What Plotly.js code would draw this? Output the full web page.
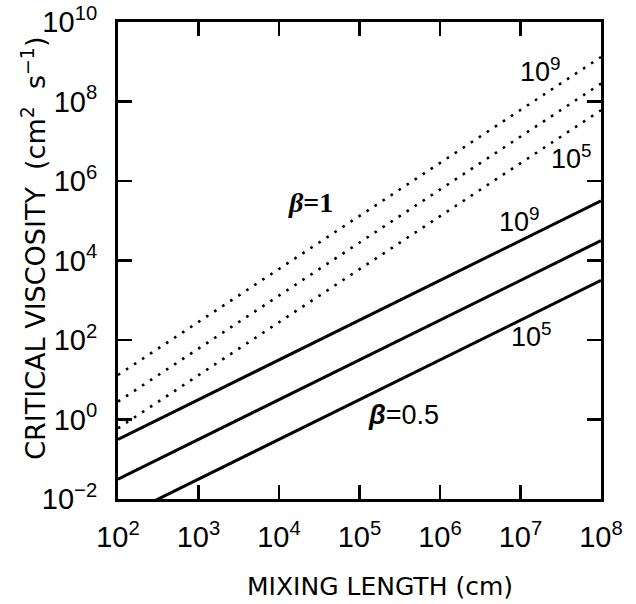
<!DOCTYPE html>
<html><head><meta charset="utf-8">
<script src="https://cdn.plot.ly/plotly-3.0.1.min.js"></script>
<style>body{margin:0;background:#fff}#c{width:636px;height:604px}</style>
</head><body><div id="c"></div>
<script>
// Mixing length (cm)
const mixLen = [1e2, 1e8];
// Critical viscosity, beta = 1 (dotted), Ra = 1e9, 1e7, 1e5
const beta1_Ra9 = [Math.pow(10, 1.12), Math.pow(10, 9.12)];
const beta1_Ra7 = [Math.pow(10, 0.45), Math.pow(10, 8.45)];
const beta1_Ra5 = [Math.pow(10, -0.22), Math.pow(10, 7.78)];
// beta = 0.5 (solid)
const beta05_Ra9 = [Math.pow(10, -0.5), Math.pow(10, 5.5)];
const beta05_Ra7 = [Math.pow(10, -1.5), Math.pow(10, 4.5)];
const beta05_Ra5 = [Math.pow(10, -2.5), Math.pow(10, 3.5)];

const xTickVals = [1e2,1e3,1e4,1e5,1e6,1e7,1e8];
const xTickText = ['10<sup>2</sup>','10<sup>3</sup>','10<sup>4</sup>','10<sup>5</sup>','10<sup>6</sup>','10<sup>7</sup>','10<sup>8</sup>'];
const yTickVals = [1e-2,1e0,1e2,1e4,1e6,1e8,1e10];
const yTickText = ['10<sup>−2</sup>','10<sup>0</sup>','10<sup>2</sup>','10<sup>4</sup>','10<sup>6</sup>','10<sup>8</sup>','10<sup>10</sup>'];

const dotted = {color:'#000', width:2.6, dash:'2.6px,7px'};
const solid = {color:'#000', width:3};
const traces = [
  {x:mixLen, y:beta1_Ra9, mode:'lines', line:dotted},
  {x:mixLen, y:beta1_Ra7, mode:'lines', line:dotted},
  {x:mixLen, y:beta1_Ra5, mode:'lines', line:dotted},
  {x:mixLen, y:beta05_Ra9, mode:'lines', line:solid},
  {x:mixLen, y:beta05_Ra7, mode:'lines', line:solid},
  {x:mixLen, y:beta05_Ra5, mode:'lines', line:solid}
];
const F = 'Liberation Sans, Arial, sans-serif';
const FT = 'DejaVu Sans, sans-serif';
const ann = (x,y,t)=>({x:x,y:y,xref:'x',yref:'y',text:t,showarrow:false,font:{family:F,size:27,color:'#000'}});
const layout = {
  width:636, height:604,
  margin:{l:118,r:35,t:22,b:105},
  paper_bgcolor:'#fff', plot_bgcolor:'#fff',
  showlegend:false,
  font:{family:F,color:'#000'},
  xaxis:{type:'log', range:[2,8], tickmode:'array', tickvals:xTickVals, ticktext:xTickText,
    ticks:'inside', ticklen:14, tickwidth:2.5, tickcolor:'#000', mirror:'ticks',
    showline:true, linewidth:3, linecolor:'#000', showgrid:false, zeroline:false,
    tickfont:{family:F,size:29}, ticklabelstandoff:10},
  yaxis:{type:'log', range:[-2,10], tickmode:'array', tickvals:yTickVals, ticktext:yTickText,
    ticks:'inside', ticklen:14, tickwidth:2.5, tickcolor:'#000', mirror:'ticks',
    showline:true, linewidth:3, linecolor:'#000', showgrid:false, zeroline:false,
    tickfont:{family:F,size:29}, ticklabelstandoff:12},
  annotations:[
    ann(7.25,8.79,'10<sup>9</sup>'),
    ann(7.63,6.60,'10<sup>5</sup>'),
    {x:4.39,y:5.47,xref:'x',yref:'y',showarrow:false,text:'<b><i>β</i>=1</b>',font:{family:'Liberation Serif, serif',size:28,color:'#000'}},
    ann(6.99,5.02,'10<sup>9</sup>'),
    ann(7.14,2.13,'10<sup>5</sup>'),
    {x:5.55,y:0.11,xref:'x',yref:'y',showarrow:false,text:'<b><i>β</i></b>=0.5',font:{family:F,size:27,color:'#000'}},
    {x:(379-118)/482, y:(499-586)/477, xref:'paper', yref:'paper', xanchor:'center', yanchor:'middle', showarrow:false,
      text:'MIXING LENGTH (cm)', font:{family:FT,size:25,color:'#000'}},
    {x:(33-118)/482, y:(499-248)/477, xref:'paper', yref:'paper', xanchor:'center', yanchor:'middle', showarrow:false, textangle:-90,
      text:'CRITICAL VISCOSITY  (cm<sup>2</sup>  s<sup>−1</sup>)', font:{family:FT,size:27,color:'#000'}}
  ]
};
Plotly.newPlot('c', traces, layout, {staticPlot:true, displayModeBar:false});
</script></body></html>
